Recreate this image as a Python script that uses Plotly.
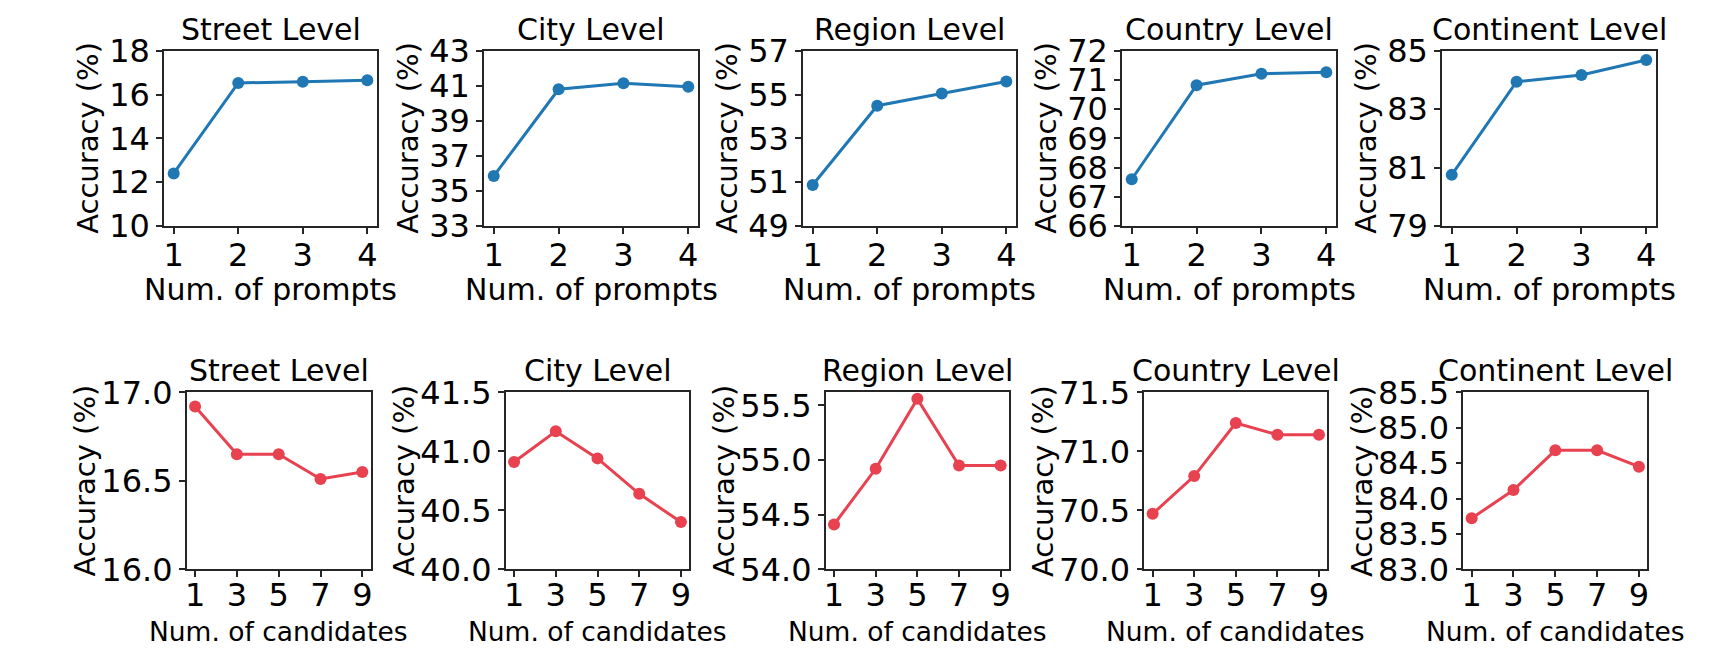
import plotly.graph_objects as go

# ---------------- data ----------------
levels = ["Street Level", "City Level", "Region Level", "Country Level", "Continent Level"]

num_prompts = [1, 2, 3, 4]
acc_prompts_street = [12.4, 16.53, 16.58, 16.65]
acc_prompts_city = [35.85, 40.8, 41.14, 40.95]
acc_prompts_region = [50.87, 54.49, 55.05, 55.59]
acc_prompts_country = [67.6, 70.82, 71.21, 71.26]
acc_prompts_continent = [80.75, 83.94, 84.17, 84.68]

num_candidates = [1, 3, 5, 7, 9]
acc_cand_street = [16.92, 16.65, 16.65, 16.51, 16.55]
acc_cand_city = [40.91, 41.17, 40.94, 40.64, 40.40]
acc_cand_region = [54.41, 54.92, 55.56, 54.95, 54.95]
acc_cand_country = [70.47, 70.79, 71.24, 71.14, 71.14]
acc_cand_continent = [83.72, 84.12, 84.68, 84.68, 84.45]

yticks_prompts = [
    [10, 12, 14, 16, 18],
    [33, 35, 37, 39, 41, 43],
    [49, 51, 53, 55, 57],
    [66, 67, 68, 69, 70, 71, 72],
    [79, 81, 83, 85],
]
yticks_cand = [
    [16.0, 16.5, 17.0],
    [40.0, 40.5, 41.0, 41.5],
    [54.0, 54.5, 55.0, 55.5],
    [70.0, 70.5, 71.0, 71.5],
    [83.0, 83.5, 84.0, 84.5, 85.0, 85.5],
]
yrange_cand_top = [17.0, 41.5, 55.62, 71.5, 85.5]

x_label_prompts = "Num. of prompts"
x_label_cand = "Num. of candidates"
y_label = "Accuracy (%)"

# ---------------- layout geometry (screen pixels) ----------------
W, H = 1736, 650
OFF = 8  # page body margin offset
top_row_x = [(164, 377), (484, 698), (803, 1016), (1122, 1336), (1442, 1656)]
top_row_y = (50.7, 226)
bot_row_x = [(186.7, 370.7), (505.7, 689.3), (825.7, 1009), (1144.3, 1327.3), (1463.3, 1647.3)]
bot_row_y = (392.3, 569.3)

BLUE = "#1f77b4"
RED = "#e8414f"
SPINE = "#262626"
FONT = "DejaVu Sans"
TICK_FS = 32
TITLE_FS = 30
YLAB_FS = 29

def px_x(v):
    return (v - OFF) / W

def px_y(v):
    return 1 - (v - OFF) / H

fig = go.Figure()
layout = dict(
    width=W, height=H, autosize=False,
    margin=dict(l=0, r=0, t=0, b=0, autoexpand=False),
    paper_bgcolor="white", plot_bgcolor="white",
    showlegend=False,
    font=dict(family=FONT, size=TICK_FS, color="black"),
)
annotations = []

top_series = [acc_prompts_street, acc_prompts_city, acc_prompts_region,
              acc_prompts_country, acc_prompts_continent]
bot_series = [acc_cand_street, acc_cand_city, acc_cand_region,
              acc_cand_country, acc_cand_continent]

def axis_common():
    return dict(
        showline=True, linecolor=SPINE, linewidth=1.5, mirror=True,
        ticks="outside", ticklen=6, tickwidth=1.5, tickcolor=SPINE,
        showgrid=False, zeroline=False, automargin=False,
        tickfont=dict(family=FONT, size=TICK_FS, color="black"),
    )

idx = 0
for row in range(2):
    for col in range(5):
        idx += 1
        xa = "xaxis" if idx == 1 else f"xaxis{idx}"
        ya = "yaxis" if idx == 1 else f"yaxis{idx}"
        xr = "x" if idx == 1 else f"x{idx}"
        yr = "y" if idx == 1 else f"y{idx}"
        if row == 0:
            xs = num_prompts
            ys = top_series[col]
            color = BLUE
            (x0, x1) = top_row_x[col]
            (y0, y1) = top_row_y
            xrange = [0.85, 4.15]
            yt = yticks_prompts[col]
            yrange = [yt[0], yt[-1]]
            tickfmt = "d"
            xlab = x_label_prompts
            xlab_fs = 30
            xlab_shift = -44
            xtick_standoff = -6
            ylab_off = 75.5
        else:
            xs = num_candidates
            ys = bot_series[col]
            color = RED
            (x0, x1) = bot_row_x[col]
            (y0, y1) = bot_row_y
            xrange = [0.6, 9.4]
            yt = yticks_cand[col]
            yrange = [yt[0], yrange_cand_top[col]]
            tickfmt = ".1f"
            xlab = x_label_cand
            xlab_fs = 26.5
            xlab_shift = -45
            xtick_standoff = -9
            ylab_off = 102

        fig.add_trace(go.Scatter(
            x=xs, y=ys, mode="lines+markers",
            line=dict(color=color, width=3),
            marker=dict(color=color, size=12),
            xaxis=xr, yaxis=yr, hoverinfo="skip",
        ))
        xd = axis_common()
        xd.update(domain=[px_x(x0), px_x(x1)], anchor=yr, range=xrange,
                  tickmode="array", tickvals=xs, ticktext=[str(v) for v in xs],
                  ticklabelstandoff=xtick_standoff)
        yd = axis_common()
        yd.update(domain=[px_y(y1), px_y(y0)], anchor=xr, range=yrange,
                  tickmode="array", tickvals=yt,
                  ticktext=[format(v, tickfmt) if tickfmt == ".1f" else str(v) for v in yt])
        layout[xa] = xd
        layout[ya] = yd

        cx = (x0 + x1) / 2
        annotations.append(dict(
            text=levels[col], x=px_x(cx), y=px_y(y0), xref="paper", yref="paper",
            xanchor="center", yanchor="bottom", yshift=2, showarrow=False,
            font=dict(family=FONT, size=TITLE_FS, color="black"),
        ))
        annotations.append(dict(
            text=xlab, x=px_x(cx), y=px_y(y1), xref="paper", yref="paper",
            xanchor="center", yanchor="top", yshift=xlab_shift,
            showarrow=False,
            font=dict(family=FONT, size=xlab_fs, color="black"),
        ))
        annotations.append(dict(
            text=y_label, x=px_x(x0 - ylab_off), y=px_y((y0 + y1) / 2),
            xref="paper", yref="paper", xanchor="center", yanchor="middle",
            textangle=-90, showarrow=False,
            font=dict(family=FONT, size=YLAB_FS, color="black"),
        ))

layout["annotations"] = annotations
fig.update_layout(**layout)
fig.write_html("out.html")
